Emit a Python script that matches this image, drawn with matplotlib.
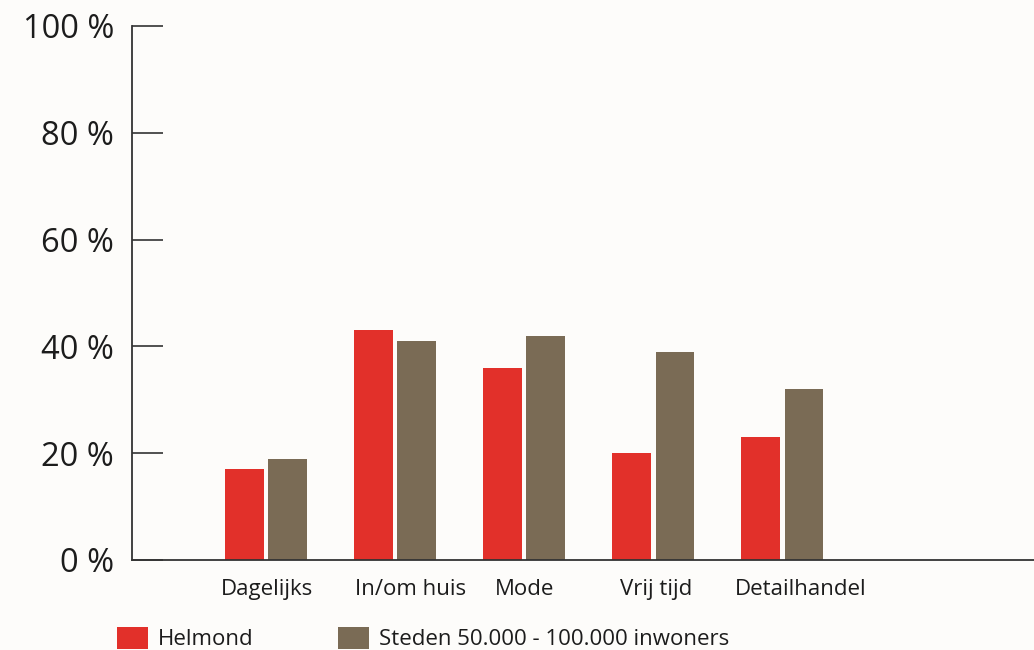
import numpy as np
import matplotlib.pyplot as plt
from matplotlib.ticker import FixedLocator

categories = ["Dagelijks", "In/om huis", "Mode", "Vrij tijd", "Detailhandel"]
helmond = [17, 43, 36, 20, 23]
steden = [19, 41, 42, 39, 32]
series_names = ["Helmond", "Steden 50.000 - 100.000 inwoners"]

y_ticks = [0, 20, 40, 60, 80, 100]
y_labels = ["0 %", "20 %", "40 %", "60 %", "80 %", "100 %"]

RED = "#e2302a"
BROWN = "#7a6b55"
INK = "#1c1c1c"
BG = "#fdfcfa"

plt.rcParams["font.family"] = ["Open Sans", "DejaVu Sans"]

fig = plt.figure(figsize=(10.34, 6.5), dpi=100, facecolor=BG)
ax = fig.add_axes([132 / 1034, 1 - 560 / 650, 1 - 132 / 1034, (560 - 26) / 650])
ax.set_facecolor(BG)

x = np.arange(len(categories))
w = 0.30
gap = 0.017
ax.bar(x - w / 2 - gap, helmond, width=w, color=RED, label=series_names[0])
ax.bar(x + w / 2 + gap, steden, width=w, color=BROWN, label=series_names[1])

ax.set_xlim(-1.04, 5.95)
ax.set_ylim(0, 100)

for s in ["top", "right"]:
    ax.spines[s].set_visible(False)
for s in ["left", "bottom"]:
    ax.spines[s].set_color("#333333")
    ax.spines[s].set_linewidth(1.3)

ax.yaxis.set_major_locator(FixedLocator(y_ticks))
ax.set_yticklabels(y_labels, fontsize=23.5, color=INK)
ax.tick_params(axis="y", direction="in", length=22, width=1.2, color="#333333", pad=13)

# labels sit slightly off the group centres in the original
label_shift = [0.01, 0.12, 0.0, 0.02, 0.14]
ax.set_xticks(x + np.array(label_shift))
ax.set_xticklabels(categories, fontsize=16, color=INK)
ax.tick_params(axis="x", length=0, pad=14)

fig.legend(loc="upper left", bbox_to_anchor=(110 / 1034, 1 - 620 / 650),
           ncol=2, frameon=False, fontsize=16, handlelength=1.4,
           handleheight=1.15, handletextpad=0.45, columnspacing=3.8,
           labelcolor=INK, borderaxespad=0, borderpad=0.3)

fig.savefig("out.png", dpi=100, facecolor=BG)
